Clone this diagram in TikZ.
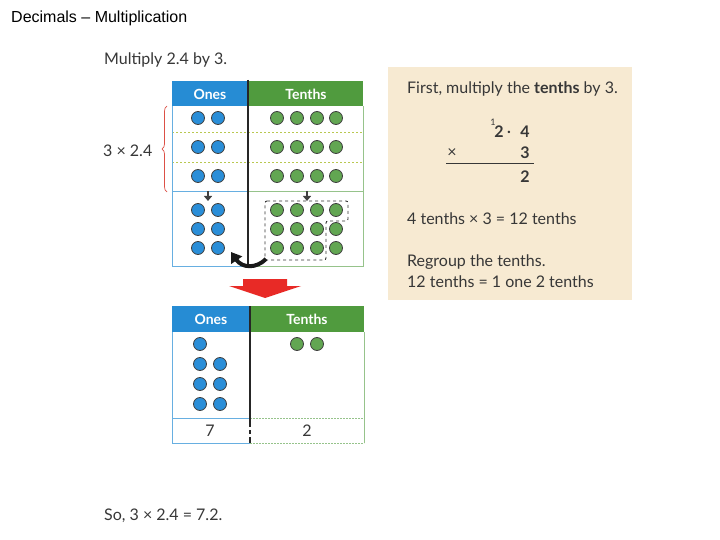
\documentclass[tikz,border=0pt]{standalone}
\usepackage{fontspec}
\setmainfont{Lato}
\newfontfamily\arialfont{Liberation Sans}
\usetikzlibrary{positioning,arrows.meta,decorations.pathreplacing}
\definecolor{onesblue}{RGB}{38,140,212}
\definecolor{tenthsgreen}{RGB}{80,155,62}
\definecolor{dotblue}{RGB}{42,142,216}
\definecolor{dotgreen}{RGB}{98,166,82}
\definecolor{panelbeige}{RGB}{247,234,210}
\definecolor{inkgray}{RGB}{55,55,55}
\definecolor{rowline}{RGB}{185,200,80}
\definecolor{bracered}{RGB}{220,80,70}
\definecolor{bigred}{RGB}{232,42,38}
\tikzset{
	onesdot/.style={circle,draw=black!75,fill=dotblue,line width=0.8pt,minimum size=13pt,inner sep=0pt},
	tenthsdot/.style={circle,draw=black!75,fill=dotgreen,line width=0.8pt,minimum size=13pt,inner sep=0pt},
	headtext/.style={text=white,font=\bfseries\fontsize{14}{16}\selectfont,inner sep=0pt},
	booktext/.style={text=inkgray,font=\fontsize{16}{18}\selectfont,inner sep=0pt},
	sumdigit/.style={text=inkgray,font=\bfseries\fontsize{16}{18}\selectfont,inner sep=0pt},
	onesline/.style={draw=onesblue!70,line width=0.8pt},
	tenthsline/.style={draw=tenthsgreen!60,line width=0.8pt},
	dotrule/.style={draw=rowline,line width=0.8pt,dash pattern=on 2pt off 2pt},
	smallarrow/.style={draw=black!75,line width=1.6pt,-{Triangle[width=8pt,length=5pt]}},
}
\begin{document}
\begin{tikzpicture}[x=1pt,y=-1pt]
	\useasboundingbox (0,0) rectangle (720,540);
	\fill[white] (0,0) rectangle (720,540);
	\node[anchor=west,font=\arialfont\fontsize{16}{18}\selectfont,inner sep=0pt] (title) at (11,18) {Decimals – Multiplication};
	\node[booktext,anchor=west] (task) at (104,60) {Multiply 2.4 by 3.};
	% top place value chart
	\begin{scope}
		\fill[onesblue] (172,81) rectangle (248,106);
		\fill[tenthsgreen] (248,81) rectangle (363,106);
		\node[headtext] (onesA) at (210,94) {Ones};
		\node[headtext] (tenthsA) at (306,94) {Tenths};
		\draw[dotrule] (172,132)--(363,132);
		\draw[dotrule] (172,162)--(363,162);
		\draw[onesline] (172,106)--(172,266)--(248,266);
		\draw[onesline] (172,191)--(248,191);
		\draw[tenthsline] (248,191)--(363,191);
		\draw[tenthsline] (248,266)--(363,266)--(363,106);
		\draw[black!85,line width=2.6pt] (248,80)--(248,266);
		\foreach \y [count=\r] in {118,147,176} {
			\node[onesdot] (oa\r1) at (198,\y) {};
			\node[onesdot] (oa\r2) at (218,\y) {};
			\foreach \x [count=\c] in {277,297,317,336}
				\node[tenthsdot] (ta\r\c) at (\x,\y) {};
		}
		\foreach \y [count=\r] in {210,229,248} {
			\node[onesdot] (ob\r1) at (198,\y) {};
			\node[onesdot] (ob\r2) at (218,\y) {};
			\foreach \x [count=\c] in {277,297,317,336}
				\node[tenthsdot] (tb\r\c) at (\x,\y) {};
		}
		\draw[smallarrow] (208,191)--(208,201);
		\draw[smallarrow] (307,191)--(307,201);
		\draw[black!80,line width=0.9pt,dashed,rounded corners=2pt] (265,201)--(348,201)--(348,221)--(326,221)--(326,260)--(265,260)--cycle;
		\coordinate (grpcorner) at (266,259);
		\coordinate (onescol) at (231,252);
		\draw[black!90,line width=4pt,-{Triangle[width=13pt,length=10pt]}] (grpcorner) .. controls (256,269) and (242,268) .. (onescol);
	\end{scope}
	\node[booktext,anchor=west] (times) at (103,151) {3 × 2.4};
	\draw[bracered,line width=0.7pt,decorate,decoration={brace,amplitude=5pt}] (167,192)--(167,106);
	\fill[bigred] (243,279)--(287,279)--(287,286)--(301,286)--(265,298)--(229,286)--(243,286)--cycle;
	% bottom place value chart
	\begin{scope}
		\fill[onesblue] (172,306) rectangle (250,332);
		\fill[tenthsgreen] (250,306) rectangle (364,332);
		\node[headtext] (onesB) at (211,319) {Ones};
		\node[headtext] (tenthsB) at (307,319) {Tenths};
		\draw[onesline] (172,332)--(172,443)--(250,443);
		\draw[onesline] (172,418)--(250,418);
		\draw[tenthsline,dash pattern=on 2pt off 1pt] (250,418)--(364,418);
		\draw[tenthsline,dash pattern=on 2pt off 1pt] (250,443)--(364,443);
		\draw[tenthsline] (364,443)--(364,332);
		\draw[black!85,line width=2.6pt] (250,306)--(250,427);
		\draw[black!85,line width=2.6pt] (250,430)--(250,434);
		\draw[black!85,line width=2.6pt] (250,437)--(250,443);
		\node[onesdot] (oc1) at (200,344) {};
		\foreach \y [count=\r] in {364,384,404} {
			\node[onesdot] (oc\r1) at (200,\y) {};
			\node[onesdot] (oc\r2) at (220,\y) {};
		}
		\node[tenthsdot] (tc1) at (297,344) {};
		\node[tenthsdot] (tc2) at (317,344) {};
		\node[booktext] (sevens) at (210,431) {7};
		\node[booktext] (twos) at (307,431) {2};
	\end{scope}
	% working panel
	\begin{scope}
		\fill[panelbeige] (388,67) rectangle (632,300);
		\node[booktext,anchor=west] (first) at (407,89) {First, multiply the \textbf{tenths} by 3.};
		\node[text=inkgray,font=\fontsize{9}{10}\selectfont,inner sep=0pt] (carry) at (493,122) {1};
		\node[sumdigit] (dtwo) at (499,132) {2};
		\node[sumdigit] (dpoint) at (509,132) {.};
		\node[sumdigit] (dfour) at (525,132) {4};
		\node[booktext] (dtimes) at (452,153) {×};
		\node[sumdigit] (dthree) at (525,153) {3};
		\draw[inkgray,line width=0.9pt] (446,163)--(534,163);
		\node[sumdigit] (dans) at (525,177) {2};
		\node[booktext,anchor=west] (step) at (407,219) {4 tenths × 3 = 12 tenths};
		\node[booktext,anchor=west] (regroup) at (407,262) {Regroup the tenths.};
		\node[booktext,anchor=west] (exch) at (407,282) {12 tenths = 1 one 2 tenths};
	\end{scope}
	\node[booktext,anchor=west] (answer) at (104,516) {So, 3 × 2.4 = 7.2.};
\end{tikzpicture}
\end{document}
